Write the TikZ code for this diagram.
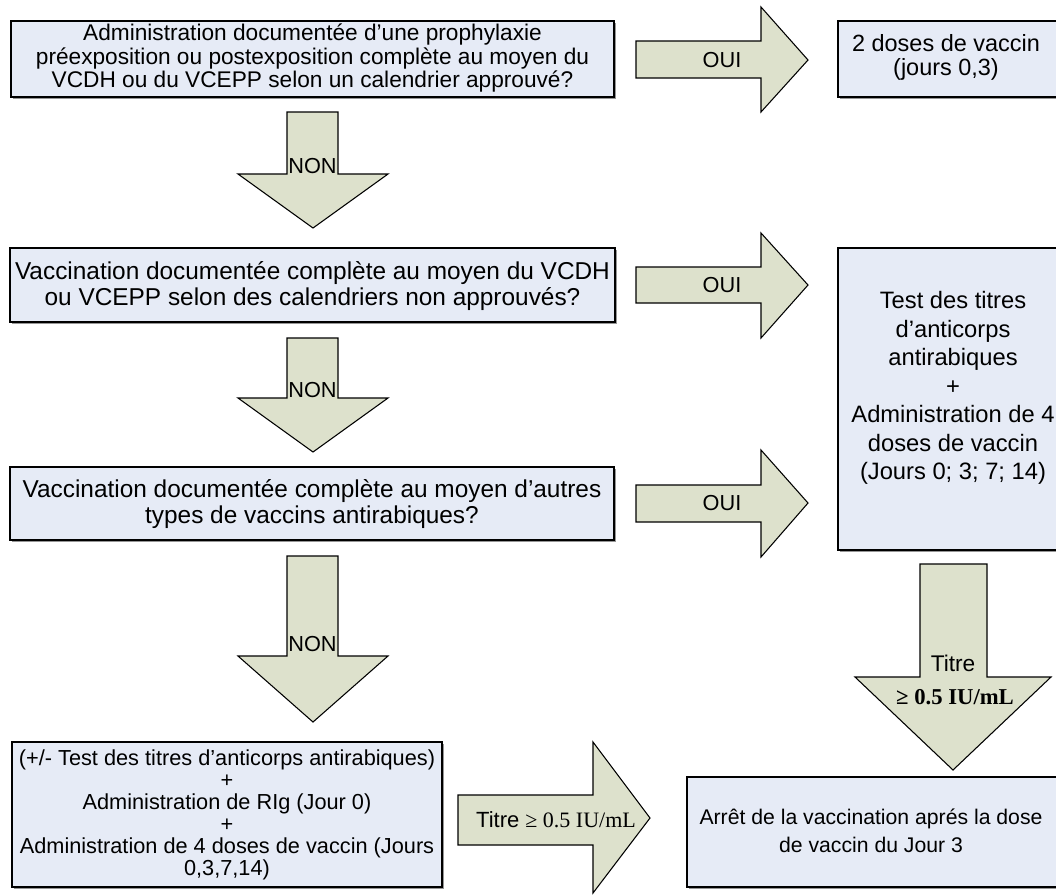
\documentclass[tikz,border=0pt]{standalone}
\usepackage{fontspec}
\setmainfont{Liberation Sans}
\newfontfamily\tnr{Liberation Serif}
\definecolor{boxfill}{RGB}{230,235,246}
\definecolor{arrfill}{RGB}{221,225,204}
\definecolor{shadowgray}{RGB}{150,150,150}
\begin{document}
\begin{tikzpicture}[x=0.75pt,y=-0.75pt,
  box/.style={draw=black, line width=1.1pt, fill=boxfill},
  shd/.style={fill=shadowgray},
  blk/.style={draw=black, line width=0.8pt, fill=arrfill, line join=miter},
  lbl/.style={inner sep=0pt, align=center, text=black}]
\useasboundingbox (0,0) rectangle (1056,894);
\clip (0,0) rectangle (1056,894);

% ---------- boxes ----------
\fill[shd] (13,23) rectangle (616,99);
\draw[box] (11,21) rectangle (614,97);
\node[lbl, font=\fontsize{17}{17.5}\selectfont] (q1) at (312.5,58)
  {Administration documentée d’une prophylaxie\\préexposition ou postexposition complète au moyen du\\VCDH ou du VCEPP selon un calendrier approuvé?};

\fill[shd] (840,23) rectangle (1072,99);
\draw[box] (838,21) rectangle (1070,97);
\node[lbl, font=\fontsize{17.6}{18}\selectfont] (r1) at (946,57)
  {2 doses de vaccin\\(jours 0,3)};

\fill[shd] (12,250) rectangle (617,324);
\draw[box] (10,248) rectangle (615,322);
\node[lbl, font=\fontsize{18.3}{20}\selectfont] (q2) at (312.5,286)
  {Vaccination documentée complète au moyen du VCDH\\ou VCEPP selon des calendriers non approuvés?};

\fill[shd] (12,469) rectangle (616,542);
\draw[box] (10,467) rectangle (614,540);
\node[lbl, font=\fontsize{18.3}{20}\selectfont] (q3) at (312,504)
  {Vaccination documentée complète au moyen d’autres\\types de vaccins antirabiques?};

\fill[shd] (840,250) rectangle (1072,552);
\draw[box] (838,248) rectangle (1070,550);
\node[lbl, font=\fontsize{17.8}{21.4}\selectfont] (r2) at (953,388)
  {Test des titres\\d’anticorps\\antirabiques\\+\\Administration de 4\\doses de vaccin\\(Jours 0; 3; 7; 14)};

\fill[shd] (14,744) rectangle (444,889);
\draw[box] (12,742) rectangle (442,887);
\node[lbl, font=\fontsize{16.3}{16.6}\selectfont] (q4) at (227,815)
  {(+/- Test des titres d’anticorps antirabiques)\\+\\Administration de RIg (Jour 0)\\+\\Administration de 4 doses de vaccin (Jours\\0,3,7,14)};

\fill[shd] (689,779) rectangle (1072,889);
\draw[box] (687,777) rectangle (1070,887);
\node[lbl, font=\fontsize{15.9}{21}\selectfont] (r3) at (871,831)
  {Arrêt de la vaccination aprés la dose\\de vaccin du Jour 3};

% ---------- OUI arrows ----------
\draw[blk] (636,41) -- (761,41) -- (761,7) -- (808,60) -- (761,112) -- (761,78) -- (636,78) -- cycle;
\node[lbl, font=\fontsize{16.3}{18}\selectfont] (y1) at (722,60) {OUI};

\draw[blk] (636,267) -- (761,267) -- (761,233) -- (808,285) -- (761,338) -- (761,303) -- (636,303) -- cycle;
\node[lbl, font=\fontsize{16.3}{18}\selectfont] (y2) at (722,285) {OUI};

\draw[blk] (636,485) -- (761,485) -- (761,450) -- (808,503) -- (761,557) -- (761,522) -- (636,522) -- cycle;
\node[lbl, font=\fontsize{16.3}{18}\selectfont] (y3) at (722,503) {OUI};

% ---------- NON arrows ----------
\draw[blk] (287,112) -- (338,112) -- (338,174) -- (388,174) -- (313,228) -- (238,174) -- (287,174) -- cycle;
\node[lbl, font=\fontsize{16.3}{18}\selectfont] (n1) at (312.5,166) {NON};

\draw[blk] (287,338) -- (338,338) -- (338,398) -- (388,398) -- (313,452) -- (238,398) -- (287,398) -- cycle;
\node[lbl, font=\fontsize{16.3}{18}\selectfont] (n2) at (312.5,390) {NON};

\draw[blk] (287,556) -- (338,556) -- (338,656) -- (388,656) -- (313,722) -- (238,656) -- (287,656) -- cycle;
\node[lbl, font=\fontsize{16.3}{18}\selectfont] (n3) at (312.5,644) {NON};

% ---------- Titre arrows ----------
\draw[blk] (920,564) -- (987,564) -- (987,677) -- (1051,677) -- (953,770) -- (855,677) -- (920,677) -- cycle;
\node[lbl, font=\fontsize{17}{18}\selectfont] (t1) at (953,663) {Titre};
\node[lbl, font=\fontsize{17}{18}\selectfont\tnr\bfseries] (t2) at (955,697) {≥ 0.5 IU/mL};

\draw[blk] (458,795) -- (593,795) -- (593,742) -- (650,818) -- (593,893) -- (593,845) -- (458,845) -- cycle;
\node[lbl, font=\fontsize{16.5}{18}\selectfont] (t3) at (556,820) {Titre {\tnr ≥ 0.5 IU/mL}};
\end{tikzpicture}
\end{document}
